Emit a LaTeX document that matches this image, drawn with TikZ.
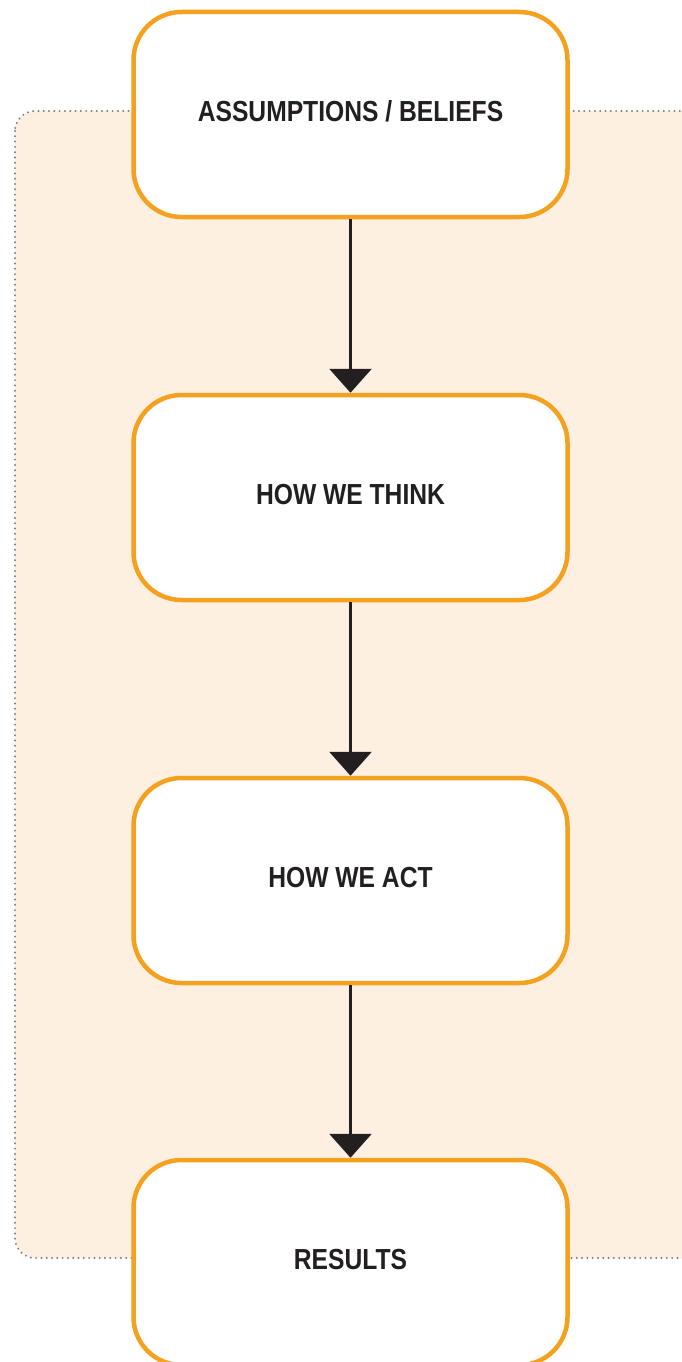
\documentclass[tikz,border=0pt]{standalone}
\usepackage{fontspec}
\setmainfont[FakeStretch=0.85,BoldFont={Liberation Sans Bold}]{Liberation Sans}
\usetikzlibrary{arrows.meta}
\definecolor{orng}{HTML}{F4A11F}
\definecolor{ink}{HTML}{231F20}
\definecolor{bgc}{HTML}{FEF0E1}
\definecolor{dotc}{HTML}{7F7F7F}
\tikzset{
  stage/.style={draw=orng, line width=4.5pt, fill=white, rounded corners=48pt,
    minimum width=434pt, minimum height=205pt, inner sep=0pt,
    text height=14pt, text depth=0pt,
    text=ink, font=\fontsize{29}{34}\selectfont\bfseries},
  flow/.style={draw=ink, line width=3pt, -{Triangle[width=42pt,length=24pt]}},
  frame/.style={draw=dotc, fill=bgc, line width=2.2pt, line cap=round,
    dash pattern=on 0pt off 5.3pt, rounded corners=20pt}
}
\begin{document}
\begin{tikzpicture}[x=1pt,y=-1pt]
\useasboundingbox (0,0) rectangle (682,1362);
\path[frame] (15,111) rectangle (702,1258);
\node[stage] (a) at (350.5,114.5) {ASSUMPTIONS / BELIEFS};
\node[stage] (b) at (350.5,497.5) {HOW WE THINK};
\node[stage] (c) at (350.5,880.5) {HOW WE ACT};
\node[stage] (d) at (350.5,1262.5) {RESULTS};
\draw[flow] (a.south) -- (b.north);
\draw[flow] (b.south) -- (c.north);
\draw[flow] (c.south) -- (d.north);
\end{tikzpicture}
\end{document}
